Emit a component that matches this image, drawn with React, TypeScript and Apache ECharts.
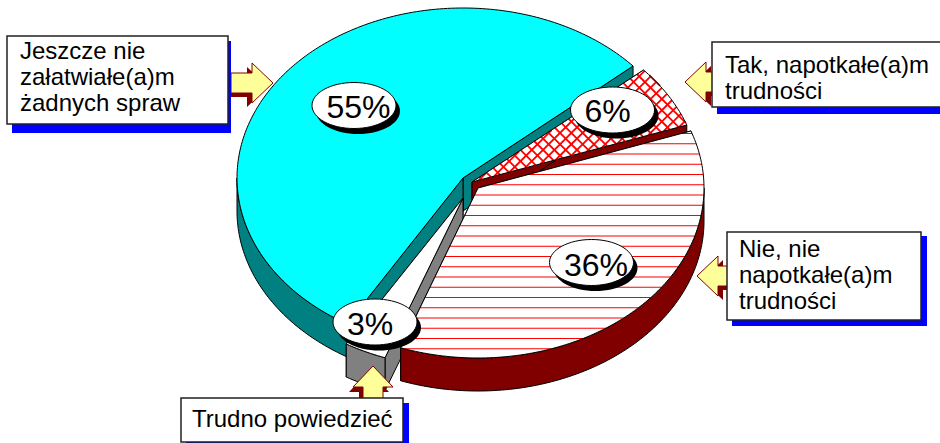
import React, { useEffect, useRef } from "react";
import * as echarts from "echarts";

// Survey answers, listed counter-clockwise round the pie.
const answers = [
  "Jeszcze nie załatwiałe(a)m żadnych spraw",
  "Trudno powiedzieć",
  "Nie, nie napotkałe(a)m trudności",
  "Tak, napotkałe(a)m trudności",
];
const shares = [55, 3, 36, 6];
const calloutLines = [
  ["Jeszcze nie", "załatwiałe(a)m", "żadnych spraw"],
  ["Trudno powiedzieć"],
  ["Nie, nie", "napotkałe(a)m", "trudności"],
  ["Tak, napotkałe(a)m", "trudności"],
];

const FONT = '"Liberation Sans", Arial, sans-serif';
const START_ANGLE = 41.2;
const RY = 170;
const DEPTH = 33;
const OUTLINE = "#000000";

type Hatch = "none" | "stripes" | "cross";
// Exploded wedge centres, radii and paint for each answer, same order as `answers`.
const wedgeLook: { cx: number; cy: number; rx: number; top: string; wall: string; hatch: Hatch }[] = [
  { cx: 463, cy: 178, rx: 226, top: "#00FFFF", wall: "#008080", hatch: "none" },
  { cx: 463, cy: 198, rx: 228, top: "#FFFFFF", wall: "#808080", hatch: "none" },
  { cx: 478, cy: 188, rx: 226, top: "#FFFFFF", wall: "#800000", hatch: "stripes" },
  { cx: 472, cy: 182, rx: 228, top: "#FFFFFF", wall: "#800000", hatch: "cross" },
];
// Wedges further back are painted first.
const paintOrder = [0, 3, 1, 2];

type Pt = [number, number];

function wedgeAngles(index: number): [number, number] {
  const total = shares.reduce((a, b) => a + b, 0);
  let from = START_ANGLE;
  for (let i = 0; i < index; i++) from += (shares[i] / total) * 360;
  return [from, from + (shares[index] / total) * 360];
}

function rimArc(cx: number, cy: number, rx: number, a0: number, a1: number): Pt[] {
  const steps = Math.max(2, Math.ceil(Math.abs(a1 - a0)));
  const pts: Pt[] = [];
  for (let i = 0; i <= steps; i++) {
    const t = ((a0 + ((a1 - a0) * i) / steps) * Math.PI) / 180;
    pts.push([cx + rx * Math.cos(t), cy - RY * Math.sin(t)]);
  }
  return pts;
}

const drop = (pts: Pt[]): Pt[] => pts.map(([x, y]) => [x, y + DEPTH] as Pt);

// Parallel lines across a polygon, returned as one SVG path string.
function hatchLines(poly: Pt[], deg: number, spacing: number, phase: number): string {
  const r = (deg * Math.PI) / 180;
  const c = Math.cos(r);
  const s = Math.sin(r);
  const rotated = poly.map(([x, y]) => [x * c + y * s, -x * s + y * c] as Pt);
  const vs = rotated.map((p) => p[1]);
  const lo = Math.min(...vs);
  const hi = Math.max(...vs);
  let d = "";
  for (let k = Math.ceil((lo - phase) / spacing); k * spacing + phase <= hi; k++) {
    const v = k * spacing + phase;
    const hits: number[] = [];
    rotated.forEach((a, i) => {
      const b = rotated[(i + 1) % rotated.length];
      if (a[1] <= v !== b[1] <= v) hits.push(a[0] + ((v - a[1]) / (b[1] - a[1])) * (b[0] - a[0]));
    });
    hits.sort((a, b) => a - b);
    for (let i = 0; i + 1 < hits.length; i += 2) {
      const x0 = hits[i] * c - v * s;
      const y0 = hits[i] * s + v * c;
      const x1 = hits[i + 1] * c - v * s;
      const y1 = hits[i + 1] * s + v * c;
      d += `M${x0.toFixed(2)} ${y0.toFixed(2)}L${x1.toFixed(2)} ${y1.toFixed(2)}`;
    }
  }
  return d;
}

function renderWedge(params: any) {
  const index = paintOrder[params.dataIndex];
  const look = wedgeLook[index];
  const [a0, a1] = wedgeAngles(index);
  const { cx, cy, rx } = look;
  const apex: Pt = [cx, cy];
  const rim = rimArc(cx, cy, rx, a0, a1);
  const first = rim[0];
  const last = rim[rim.length - 1];
  const top: Pt[] = [apex, ...rim];
  const wallStyle = { fill: look.wall, stroke: OUTLINE, lineWidth: 1, lineJoin: "round" };
  const children: any[] = [];

  for (const end of [first, last]) {
    children.push({
      type: "polygon",
      silent: true,
      shape: { points: [apex, end, ...drop([end]), ...drop([apex])] },
      style: wallStyle,
    });
  }

  // Only the part of the rim facing the viewer shows its outer wall.
  const bandFrom = Math.max(a0, 180);
  const bandTo = Math.min(a1, 360);
  if (bandTo > bandFrom) {
    const band = rimArc(cx, cy, rx, bandFrom, bandTo);
    children.push({
      type: "polygon",
      silent: true,
      shape: { points: [...band, ...drop(band).reverse()] },
      style: wallStyle,
    });
  }

  children.push({ type: "polygon", silent: true, shape: { points: top }, style: { fill: look.top } });

  const hatchStyle = { fill: "none", stroke: "#FF0000" };
  if (look.hatch === "stripes") {
    children.push({
      type: "path",
      silent: true,
      shape: { pathData: hatchLines(top, 0, 10.25, 0.25) },
      style: { ...hatchStyle, lineWidth: 1.15 },
    });
  } else if (look.hatch === "cross") {
    for (const deg of [45, -45]) {
      children.push({
        type: "path",
        silent: true,
        shape: { pathData: hatchLines(top, deg, 8, 2) },
        style: { ...hatchStyle, lineWidth: 1.8 },
      });
    }
  }

  children.push({
    type: "polygon",
    silent: true,
    shape: { points: top },
    style: { fill: "none", stroke: OUTLINE, lineWidth: 1, lineJoin: "round" },
  });

  return { type: "group", children };
}

// Percentage badges: ellipse centre and text centre for each answer.
const badgeLook = [
  { cx: 354, cy: 105.5, tx: 358.5, ty: 106.5 },
  { cx: 375, cy: 322, tx: 370, ty: 323.5 },
  { cx: 591.5, cy: 262.5, tx: 596, ty: 264.5 },
  { cx: 612.5, cy: 110, tx: 607.5, ty: 110.5 },
];

function badges(): any[] {
  const out: any[] = [];
  shares.forEach((share, i) => {
    const b = badgeLook[i];
    out.push({
      type: "ellipse",
      z: 20,
      silent: true,
      shape: { cx: b.cx + 4, cy: b.cy + 5.5, rx: 42, ry: 23 },
      style: { fill: "#000000" },
    });
    out.push({
      type: "ellipse",
      z: 21,
      silent: true,
      shape: { cx: b.cx, cy: b.cy, rx: 42, ry: 23 },
      style: { fill: "#FFFFFF", stroke: "#000000", lineWidth: 1 },
    });
    out.push({
      type: "text",
      z: 22,
      silent: true,
      style: {
        text: `${share}%`,
        x: b.tx,
        y: b.ty,
        align: "center",
        verticalAlign: "middle",
        fontSize: 32,
        fontFamily: FONT,
        fill: "#000000",
      },
    });
  });
  return out;
}

// Callout boxes: frame, blue shadow rectangle and top-left of the text block.
const calloutLook = [
  { box: [7, 36, 228, 124], shadow: [12, 41, 231, 133], text: [20, 37] },
  { box: [181, 398, 403, 442], shadow: [186, 403, 409, 448], text: [192, 405] },
  { box: [727, 232, 921, 320], shadow: [732, 236, 927, 326], text: [739, 235] },
  { box: [712, 42, 950, 107], shadow: [717, 47, 955, 114], text: [725, 51] },
];

function callouts(): any[] {
  const out: any[] = [];
  calloutLook.forEach((c, i) => {
    const [sx0, sy0, sx1, sy1] = c.shadow;
    const [bx0, by0, bx1, by1] = c.box;
    out.push({
      type: "rect",
      z: 31,
      silent: true,
      shape: { x: sx0, y: sy0, width: sx1 - sx0, height: sy1 - sy0 },
      style: { fill: "#0000FF" },
    });
    out.push({
      type: "rect",
      z: 32,
      silent: true,
      shape: { x: bx0, y: by0, width: bx1 - bx0, height: by1 - by0 },
      style: { fill: "#FFFFFF", stroke: "#222222", lineWidth: 1.5 },
    });
    out.push({
      type: "text",
      z: 33,
      silent: true,
      style: {
        text: calloutLines[i].join("\n"),
        x: c.text[0],
        y: c.text[1],
        align: "left",
        verticalAlign: "top",
        fontSize: 24,
        lineHeight: 26,
        fontFamily: FONT,
        fill: "#000000",
      },
    });
  });
  return out;
}

// Block arrows as seen pointing right; each entry places and turns that outline.
const arrowOutline: Pt[] = [
  [0, -10],
  [21, -10],
  [21, -20],
  [42, 0],
  [21, 20],
  [21, 10],
  [0, 10],
];
const arrowLook: { at: Pt; cos: number; sin: number; shade: Pt }[] = [
  { at: [231, 83], cos: 1, sin: 0, shade: [-5, 4] },
  { at: [373, 408], cos: 0, sin: -1, shade: [-4, 5] },
  { at: [739, 276], cos: -1, sin: 0, shade: [5, 4] },
  { at: [727, 82], cos: -1, sin: 0, shade: [5, 4] },
];

function arrows(): any[] {
  const out: any[] = [];
  arrowLook.forEach((a) => {
    const pts = arrowOutline.map(
      ([x, y]) => [a.at[0] + x * a.cos - y * a.sin, a.at[1] + x * a.sin + y * a.cos] as Pt
    );
    out.push({
      type: "polygon",
      z: 28,
      silent: true,
      shape: { points: pts.map(([x, y]) => [x + a.shade[0], y + a.shade[1]]) },
      style: { fill: "#800000" },
    });
    out.push({
      type: "polygon",
      z: 29,
      silent: true,
      shape: { points: pts },
      style: { fill: "#FFFF99", stroke: "#800000", lineWidth: 1 },
    });
  });
  return out;
}

export default function App() {
  const ref = useRef<HTMLDivElement>(null);

  useEffect(() => {
    document.body.style.margin = "0";
    const chart = echarts.init(ref.current!, undefined, { renderer: "svg" });
    chart.setOption({
      animation: false,
      backgroundColor: "#FFFFFF",
      series: [
        {
          type: "custom",
          coordinateSystem: "none",
          clip: false,
          silent: true,
          renderItem: renderWedge,
          data: paintOrder.map((i) => ({ name: answers[i], value: [shares[i]] })),
        },
      ],
      graphic: { elements: [...arrows(), ...callouts(), ...badges()] },
    });
    return () => chart.dispose();
  }, []);

  return <div ref={ref} style={{ position: "absolute", left: 0, top: 0, width: 940, height: 443 }} />;
}
